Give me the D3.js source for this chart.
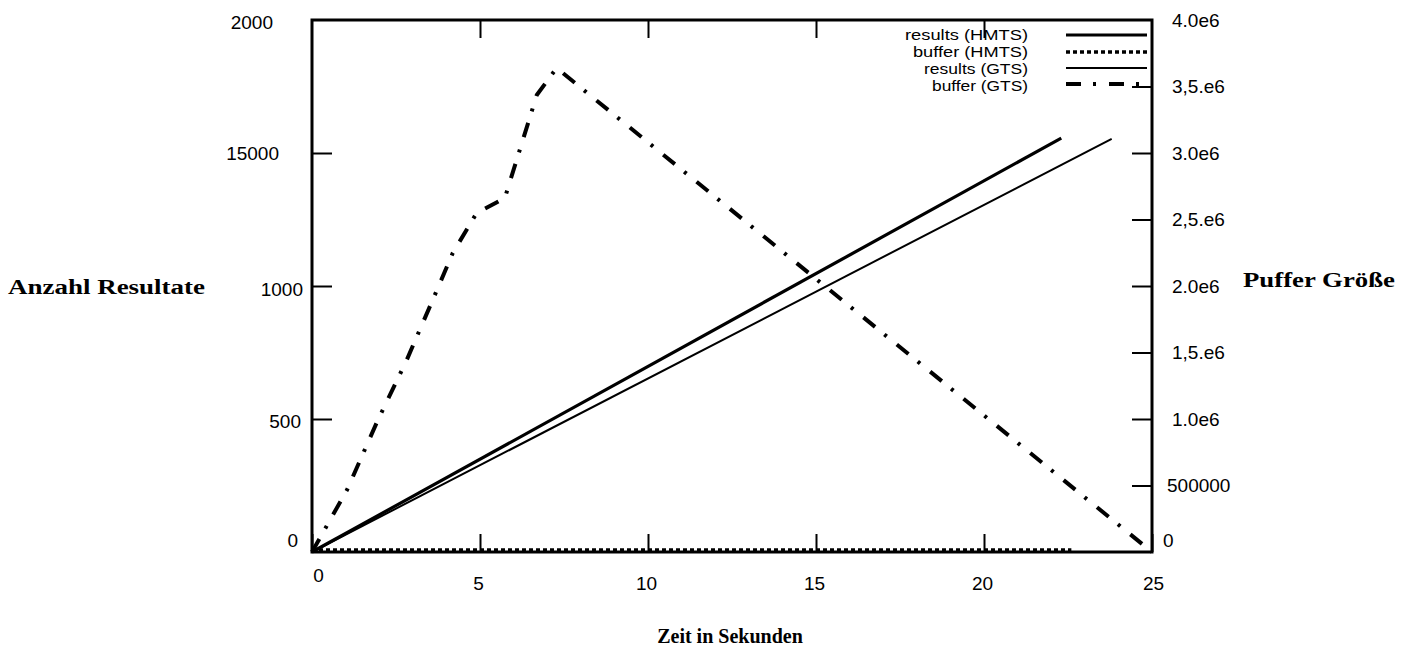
<!DOCTYPE html>
<html><head><meta charset="utf-8">
<script src="https://cdn.jsdelivr.net/npm/d3@7"></script>
<style>
body{margin:0;background:#fff;}
svg{display:block;}
.tick text{font-family:"Liberation Sans",Arial,sans-serif;font-size:19px;fill:#000;}
</style></head>
<body><svg id="chart" width="1415" height="646"></svg>
<script>
// ---- data ----
const xTickValues = [0, 5, 10, 15, 20, 25];
const leftTickValues = [0, 500, 1000, 1500, 2000];
const leftTickLabels = ["0", "500", "1000", "15000", "2000"];
const rightTickValues = [0, 500000, 1000000, 1500000, 2000000, 2500000, 3000000, 3500000, 4000000];
const rightTickLabels = ["0", "500000", "1.0e6", "1,5.e6", "2.0e6", "2,5.e6", "3.0e6", "3,5.e6", "4.0e6"];

const seriesNames = ["results (HMTS)", "buffer (HMTS)", "results (GTS)", "buffer (GTS)"];

const timeResultsHMTS = [0, 22.3];
const resultsHMTS = [0, 1556];
const timeBufferHMTS = [0, 22.6];
const bufferHMTS = [15000, 15000];
const timeResultsGTS = [0, 23.8];
const resultsGTS = [0, 1553];
const timeBufferGTS = [0, 1.04, 1.96, 2.82, 3.72, 4.19, 4.90, 5.74, 6.69, 7.28, 25];
const bufferGTS = [0, 466000, 992000, 1444000, 1970000, 2248000, 2549000, 2662000, 3436000, 3639000, 0];

// ---- layout ----
const L = 312, R = 1152, T = 20, B = 552;
const svg = d3.select("#chart");
const x = d3.scaleLinear().domain([0, 25]).range([L, R]);
const yL = d3.scaleLinear().domain([0, 2000]).range([B, T]);
const yR = d3.scaleLinear().domain([0, 4000000]).range([B, T]);

const zip = (a, b) => a.map((v, i) => [v, b[i]]);

const series = [
  {name: seriesNames[0], pts: zip(timeResultsHMTS, resultsHMTS), y: yL, w: 3.2, dash: null},
  {name: seriesNames[1], pts: zip(timeBufferHMTS, bufferHMTS), y: yR, w: 3.5, dash: "4,3"},
  {name: seriesNames[2], pts: zip(timeResultsGTS, resultsGTS), y: yL, w: 2, dash: null},
  {name: seriesNames[3], pts: zip(timeBufferGTS, bufferGTS), y: yR, w: 4, dash: "15,12,3,13"}
];

series.forEach(s => {
  const line = d3.line().x(d => x(d[0])).y(d => s.y(d[1]));
  svg.append("path").attr("d", line(s.pts)).attr("fill", "none")
    .attr("stroke", "#000").attr("stroke-width", s.w)
    .attr("stroke-dasharray", s.dash).attr("stroke-linejoin", "miter").attr("stroke-linecap", "butt");
});

// frame
svg.append("rect").attr("x", L).attr("y", T).attr("width", R - L).attr("height", B - T)
  .attr("fill", "none").attr("stroke", "#000").attr("stroke-width", 3);

// axes
const xAxis = d3.axisBottom(x).tickValues(xTickValues).tickSize(-18).tickPadding(0).tickFormat(d3.format("d"));
const gx = svg.append("g").attr("transform", `translate(0,${B})`).call(xAxis);
gx.select(".domain").remove();
gx.selectAll(".tick line").attr("stroke-width", 2);
gx.selectAll(".tick text").attr("dy", null)
  .attr("y", (d, i) => i === 0 ? 30 : 38)
  .attr("dx", (d, i) => i === 0 ? 6 : (i === 5 ? 1 : -2));

const xTop = d3.axisTop(x).tickValues(xTickValues.slice(1, 5)).tickSize(-18).tickFormat("");
const gxt = svg.append("g").attr("transform", `translate(0,${T})`).call(xTop);
gxt.select(".domain").remove();
gxt.selectAll(".tick line").attr("stroke-width", 2);

const leftAxis = d3.axisLeft(yL).tickValues(leftTickValues).tickSize(-20)
  .tickFormat((d, i) => leftTickLabels[i]);
const gl = svg.append("g").attr("transform", `translate(${L},0)`).call(leftAxis);
gl.select(".domain").remove();
gl.selectAll(".tick line").attr("stroke-width", 2)
  .attr("display", d => (d === 0 || d === 2000) ? "none" : null);
const leftTextX = [-14, -11, -9, -33, -39];
const leftTextDy = [-12, 2, 3, 0, 2];
gl.selectAll(".tick text").attr("x", (d, i) => leftTextX[i]).attr("dy", (d, i) => (6 + leftTextDy[i]) + "px");

const rightAxis = d3.axisRight(yR).tickValues(rightTickValues).tickSize(-20)
  .tickFormat((d, i) => rightTickLabels[i]);
const gr = svg.append("g").attr("transform", `translate(${R},0)`).call(rightAxis);
gr.select(".domain").remove();
gr.selectAll(".tick line").attr("stroke-width", 2)
  .attr("display", d => (d === 0 || d === 4000000) ? "none" : null);
gr.selectAll(".tick text").attr("x", (d, i) => i === 0 ? 11 : (i === 1 ? 15 : 20))
  .attr("dy", (d, i) => (i === 0 ? -6 : 6) + "px");

// legend
const legTextY = [35, 52, 69, 86];
const legLineY = [35, 52, 68, 84];
const legWidths = [123, 115, 104, 96];
const leg = svg.append("g");
series.forEach((s, i) => {
  leg.append("text").attr("x", 1028).attr("y", legTextY[i]).attr("dy", "0.35em")
    .attr("text-anchor", "end").attr("font-family", "Liberation Sans, Arial, sans-serif")
    .attr("font-size", 14).attr("textLength", legWidths[i]).attr("lengthAdjust", "spacingAndGlyphs")
    .text(s.name);
  leg.append("line").attr("x1", 1066).attr("x2", 1147).attr("y1", legLineY[i]).attr("y2", legLineY[i])
    .attr("stroke", "#000").attr("stroke-width", s.w).attr("stroke-dasharray", s.dash);
});

// axis titles
const titleFont = "Liberation Serif, Times New Roman, serif";
svg.append("text").attr("x", 8).attr("y", 294).attr("font-family", titleFont)
  .attr("font-weight", "bold").attr("font-size", 20).attr("textLength", 197)
  .attr("lengthAdjust", "spacingAndGlyphs").text("Anzahl Resultate");
svg.append("text").attr("x", 1243).attr("y", 287).attr("font-family", titleFont)
  .attr("font-weight", "bold").attr("font-size", 20).attr("textLength", 152)
  .attr("lengthAdjust", "spacingAndGlyphs").text("Puffer Größe");
svg.append("text").attr("x", 730).attr("y", 643).attr("text-anchor", "middle").attr("font-family", titleFont)
  .attr("font-weight", "bold").attr("font-size", 20).text("Zeit in Sekunden");
</script></body></html>
